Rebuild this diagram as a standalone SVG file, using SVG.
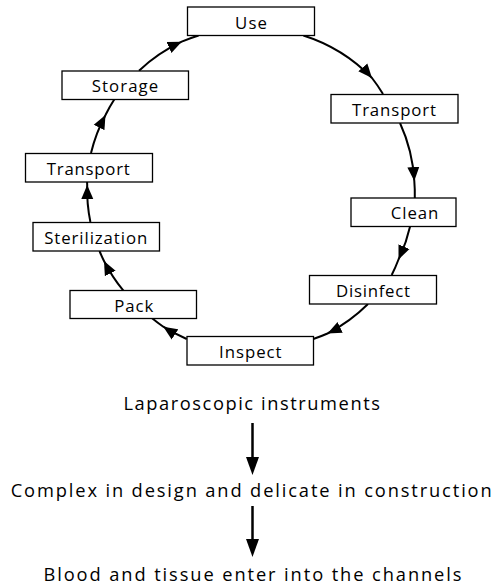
<svg xmlns="http://www.w3.org/2000/svg" width="495" height="587" viewBox="0 0 495 587">
<style>
.box{fill:#fff;stroke:#000;stroke-width:1.3}
.lbl{font-family:"Open Sans","Liberation Sans",sans-serif;font-size:16.8px;fill:#000;text-anchor:middle}
.big{font-family:"Open Sans","Liberation Sans",sans-serif;font-size:18.3px;fill:#000;text-anchor:middle}
.arc{fill:none;stroke:#000;stroke-width:2;marker-mid:url(#ah)}
.vl{fill:none;stroke:#000;stroke-width:2.5;marker-end:url(#ahb)}
</style>
<defs>
<marker id="ah" markerUnits="userSpaceOnUse" markerWidth="15" markerHeight="13" refX="14" refY="6.5" orient="auto" viewBox="0 0 15 13"><path d="M0,0.5 L14,6.5 L0,12.5 z" fill="#000"/></marker>
<marker id="ahb" markerUnits="userSpaceOnUse" markerWidth="18" markerHeight="14" refX="8" refY="7" orient="auto" viewBox="0 0 18 14"><path d="M0,0.5 L18,7 L0,13.5 z" fill="#000"/></marker>
</defs>
<rect width="495" height="587" fill="#fff"/>
<g id="connectors">
<path class="arc" d="M303.4,35.5 A164,162 0 0 1 372,78 A164,162 0 0 1 383,94"/>
<path class="arc" d="M400,123 A164,162 0 0 1 414.3,181 A164,162 0 0 1 414.8,198"/>
<path class="arc" d="M410,226.7 A164,162 0 0 1 398.5,259.5 A164,162 0 0 1 391.7,275"/>
<path class="arc" d="M368,304 A164,162 0 0 1 327.5,333.5 A164,162 0 0 1 313.3,339"/>
<path class="arc" d="M186.7,339 A164,162 0 0 1 163.3,326.7 A164,162 0 0 1 151.8,318"/>
<path class="arc" d="M123.4,290.7 A164,162 0 0 1 104,261 A164,162 0 0 1 99.5,251"/>
<path class="arc" d="M90.4,222 A164,162 0 0 1 87.2,185 A164,162 0 0 1 87.1,182"/>
<path class="arc" d="M91,153 A164,162 0 0 1 105.5,115 A164,162 0 0 1 114.4,99.3"/>
<path class="arc" d="M139,70.7 A164,162 0 0 1 181.7,41.7 A164,162 0 0 1 198.6,35.5"/>
<line class="vl" x1="252.5" y1="423" x2="252.5" y2="465"/>
<line class="vl" x1="252.5" y1="506" x2="252.5" y2="547"/>
</g>
<g id="use"><rect class="box" x="187.5" y="7" width="127" height="28.5"/><text class="lbl" x="251" y="29" textLength="32" lengthAdjust="spacing">Use</text></g>
<g id="transport-right"><rect class="box" x="331" y="94.5" width="127" height="28.5"/><text class="lbl" x="394" y="115.5" textLength="84" lengthAdjust="spacing">Transport</text></g>
<g id="clean"><rect class="box" x="351" y="198" width="105" height="28.5"/><text class="lbl" x="414.5" y="219" textLength="47.5" lengthAdjust="spacing">Clean</text></g>
<g id="disinfect"><rect class="box" x="309.5" y="275.5" width="127" height="28.5"/><text class="lbl" x="373" y="296.5" textLength="74" lengthAdjust="spacing">Disinfect</text></g>
<g id="inspect"><rect class="box" x="187" y="336.5" width="126.5" height="28.5"/><text class="lbl" x="250.3" y="357.5" textLength="62.5" lengthAdjust="spacing">Inspect</text></g>
<g id="pack"><rect class="box" x="70" y="290.5" width="126.5" height="28"/><text class="lbl" x="133.8" y="311.5" textLength="39" lengthAdjust="spacing">Pack</text></g>
<g id="sterilization"><rect class="box" x="33" y="222.5" width="126.5" height="28.5"/><text class="lbl" x="95.7" y="243.5" textLength="103" lengthAdjust="spacing">Sterilization</text></g>
<g id="transport-left"><rect class="box" x="25.5" y="153.5" width="127" height="28.5"/><text class="lbl" x="88.3" y="174.5" textLength="83" lengthAdjust="spacing">Transport</text></g>
<g id="storage"><rect class="box" x="62" y="71" width="126.5" height="28.5"/><text class="lbl" x="125" y="92" textLength="66.5" lengthAdjust="spacing">Storage</text></g>
<g id="laparoscopic"><text class="big" x="251.7" y="410" textLength="256.5" lengthAdjust="spacing">Laparoscopic instruments</text></g>
<g id="complex"><text class="big" x="251.2" y="496.5" textLength="481" lengthAdjust="spacing">Complex in design and delicate in construction</text></g>
<g id="blood"><text class="big" x="252.5" y="581" textLength="418" lengthAdjust="spacing">Blood and tissue enter into the channels</text></g>
</svg>
